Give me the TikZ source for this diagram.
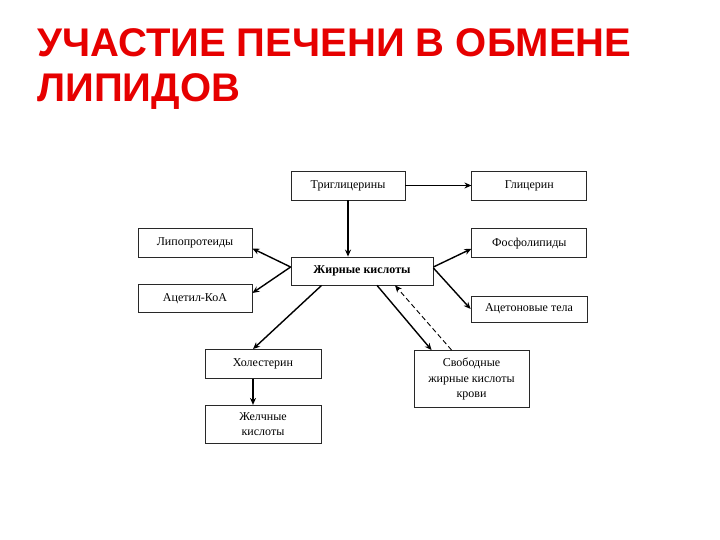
\documentclass[tikz,border=0pt]{standalone}
\usepackage{fontspec}
\setmainfont{Liberation Serif}
\newfontfamily\headfont{Liberation Sans}
\usetikzlibrary{arrows.meta,positioning,calc}
\definecolor{titleRed}{RGB}{230,0,0}
\definecolor{boxLine}{RGB}{40,40,40}

\begin{document}
\begin{tikzpicture}[
    x=1pt, y=-1pt,
    every node/.style={align=center, font=\fontsize{12}{15.5}\selectfont},
    plainBox/.style={rectangle, draw=boxLine, line width=0.8pt, fill=white, inner sep=1pt, minimum width=114pt, minimum height=29pt},
    connArrow/.style={-{Stealth[length=7pt,width=6pt]}, line width=1.4pt, draw=black},
    backArrow/.style={-{Stealth[length=7pt,width=6pt]}, line width=0.9pt, dash pattern=on 5pt off 3pt, draw=black}
]
\useasboundingbox (0,0) rectangle (720,540);

% Title
\node (title) [anchor=north west, align=left, inner sep=0pt, text=titleRed, font=\headfont\bfseries\fontsize{40}{45}\selectfont] at (37,28) {УЧАСТИЕ ПЕЧЕНИ В ОБМЕНЕ\\ЛИПИДОВ};

% Nodes
\node (tri) [plainBox] at (348,185.5) {Триглицерины};
\node (glyc) [plainBox, minimum width=115pt, right=66pt of tri] {Глицерин};
\node (phospho) [plainBox, minimum width=115pt, below=28pt of glyc] {Фосфолипиды};
\node (lipo) [plainBox] at (195,242.5) {Липопротеиды};
\node (fatty) [plainBox, minimum width=142pt, minimum height=28pt] at (362,271) {\textbf{Жирные кислоты}};
\node (acetyl) [plainBox, minimum height=28pt] at (195,298.5) {Ацетил-КоА};
\node (ketone) [plainBox, minimum width=116pt, minimum height=26pt] at (529,309) {Ацетоновые тела};
\node (chol) [plainBox, minimum width=116pt] at (263,364) {Холестерин};
\node (bile) [plainBox, minimum width=116pt, minimum height=38pt, below=26pt of chol] {Желчные\\кислоты};
\node (free) [plainBox, minimum width=115pt, minimum height=57pt] at (471.5,379) {Свободные\\жирные кислоты\\крови};

% Connectors
\draw [connArrow] (tri) -- (glyc);
\draw [connArrow] (tri.south) -- (tri.south |- fatty.north);
\draw [connArrow] ([yshift=4pt]fatty.west) -- ([yshift=-6pt]lipo.east);
\draw [connArrow] ([yshift=4pt]fatty.west) -- ([yshift=5.5pt]acetyl.east);
\draw [connArrow] ([yshift=4pt]fatty.east) -- ([yshift=-5.5pt]phospho.west);
\draw [connArrow] ([yshift=3pt]fatty.east) -- (ketone.west);
\draw [connArrow] ([xshift=31pt]fatty.south west) -- ([xshift=-10pt]chol.north);
\draw [connArrow] ([xshift=15pt]fatty.south) -- ([xshift=18pt]free.north west);
\draw [backArrow] ([xshift=38pt]free.north west) -- ([xshift=33pt]fatty.south);
\draw [connArrow] ([xshift=-10pt]chol.south) -- ([xshift=-10pt]bile.north);

\end{tikzpicture}
\end{document}
